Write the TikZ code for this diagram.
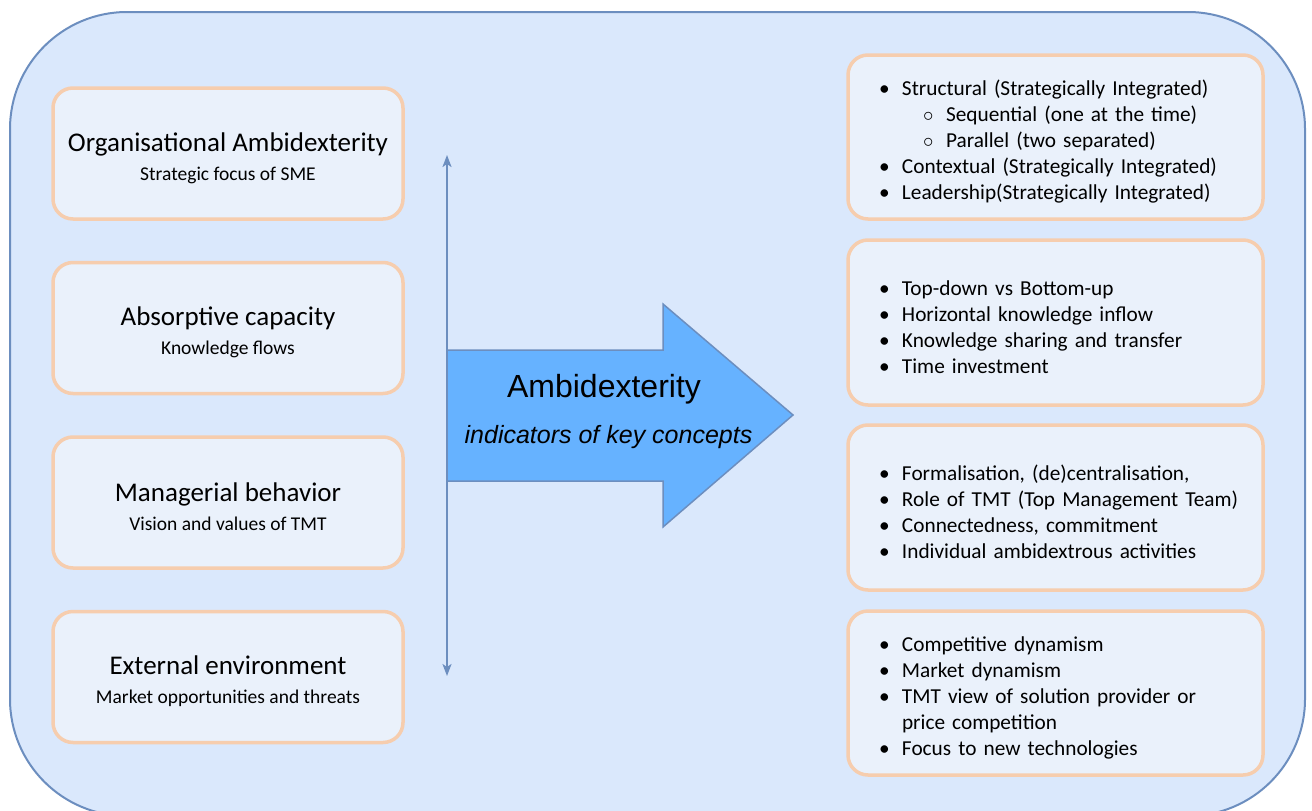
\documentclass[tikz,border=0pt]{standalone}
\usepackage{fontspec}
\setmainfont{Carlito}
\newfontfamily\arialfont{Liberation Sans}
\usepackage{tikz}
\usetikzlibrary{arrows.meta}
\definecolor{panel}{HTML}{DAE8FC}
\definecolor{panelline}{HTML}{6C8EBF}
\definecolor{boxfill}{HTML}{EAF1FB}
\definecolor{boxline}{HTML}{F6CDAE}
\definecolor{bigarrow}{HTML}{66B2FF}
\newcommand{\arrow}{{Stealth[length=12pt,width=9pt,inset=3pt]}-{Stealth[length=12pt,width=9pt,inset=3pt]}}
\newcommand{\bul}{\hspace*{14pt}\makebox[23pt][l]{\textbullet}}
\newcommand{\subbul}{\hspace*{58pt}\makebox[23pt][l]{$\circ$}}
\newcommand{\topline}{\rule{0pt}{24pt}}
\newcommand{\headline}[1]{{\fontsize{27}{29}\selectfont\rule{0pt}{28pt}#1}}
\tikzset{
  factor/.style={draw=boxline, fill=boxfill, line width=3.5pt, rounded corners=20pt,
    minimum width=350pt, minimum height=131pt, align=center,
    font=\fontsize{19.5}{29}\selectfont},
  indicator/.style={draw=boxline, fill=boxfill, line width=3.5pt, rounded corners=20pt,
    minimum height=165pt, text width=381pt, inner xsep=17pt, align=left,
    font=\fontsize{21.3}{26}\selectfont},
}

\begin{document}
\begin{tikzpicture}[x=1pt,y=-1pt]
    \useasboundingbox (0,0) rectangle (1312,811);
    \clip (0,0) rectangle (1312,811);
    \draw[panelline, fill=panel, line width=2pt, rounded corners=117pt] (10,12) rectangle (1305,816);

    \node[factor] (strategy) at (228,153.5) {\headline{Organisational Ambidexterity}\\Strategic focus of SME};
    \node[factor] (absorb) at (228,328) {\headline{Absorptive capacity}\\Knowledge flows};
    \node[factor] (manager) at (228,502.5) {\headline{Managerial behavior}\\Vision and values of TMT};
    \node[factor] (external) at (228,677) {\headline{External environment}\\Market opportunities and threats};

    \node[indicator, minimum height=164pt] (types) at (1055.5,137) {\topline\bul Structural (Strategically Integrated)\\
        \subbul Sequential (one at the time)\\
        \subbul Parallel (two separated)\\
        \bul Contextual (Strategically Integrated)\\
        \bul Leadership(Strategically Integrated)};
    \node[indicator] (flows) at (1055.5,322.5) {\topline\bul Top-down vs Bottom-up\\
        \bul Horizontal knowledge inflow\\
        \bul Knowledge sharing and transfer\\
        \bul Time investment};
    \node[indicator] (tmt) at (1055.5,507.5) {\topline\bul Formalisation, (de)centralisation,\\
        \bul Role of TMT (Top Management Team)\\
        \bul Connectedness, commitment\\
        \bul Individual ambidextrous activities};
    \node[indicator, minimum height=164pt] (dynamism) at (1055.5,693) {\topline\bul Competitive dynamism\\
        \bul Market dynamism\\
        \bul TMT view of solution provider or\\
        \hspace*{37pt}price competition\\
        \bul Focus to new technologies};

    \filldraw[fill=bigarrow, draw=panelline, line width=1.5pt] (447,350) -- (663,350) -- (663,304) -- (793,415)
        -- (663,527) -- (663,481) -- (447,481) -- cycle;
    \node[anchor=base, font=\arialfont\fontsize{32}{34}\selectfont] (ambi) at (604,397) {Ambidexterity};
    \node[anchor=base, font=\arialfont\itshape\fontsize{25}{27}\selectfont] (key) at (608.5,443) {indicators of key concepts};

    \coordinate (up) at (447,155);
    \coordinate (down) at (447,676);
    \draw[\arrow, panelline, line width=2pt] (up) -- (down);
\end{tikzpicture}
\end{document}
